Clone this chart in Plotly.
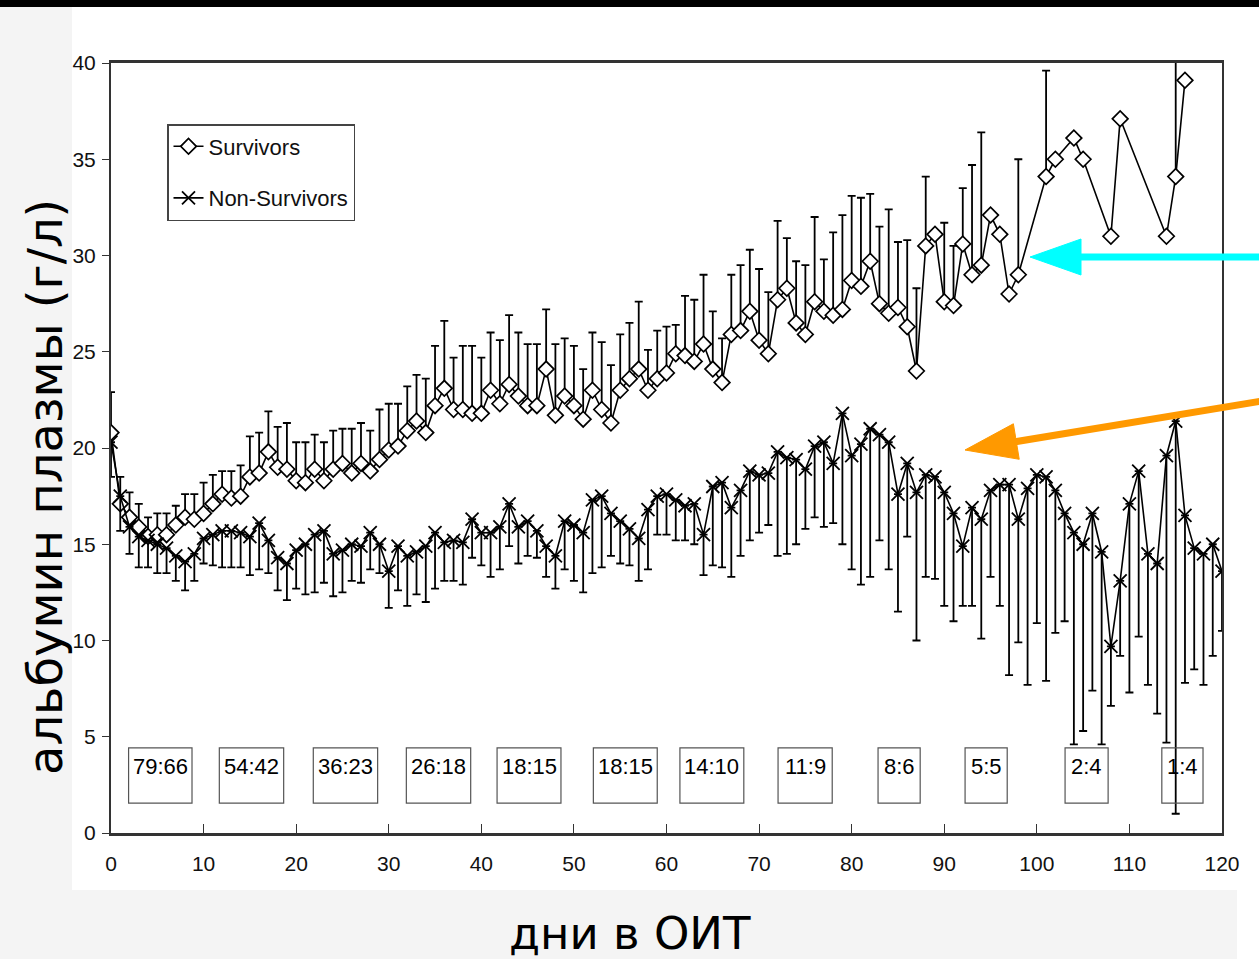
import plotly.graph_objects as go

# ---------------- data ----------------
surv_days = list(range(0, 99)) + [101, 102, 104, 105, 108, 109, 114, 115, 116]
surv_mean = [
    20.8, 17.1, 16.4, 15.9, 15.4, 15.5, 15.5, 16.0, 16.4, 16.3,
    16.6, 17.1, 17.6, 17.4, 17.5, 18.5, 18.7, 19.8, 19.0, 18.9,
    18.3, 18.2, 18.9, 18.3, 18.9, 19.2, 18.7, 19.2, 18.8, 19.4,
    19.9, 20.1, 20.9, 21.4, 20.8, 22.2, 23.1, 22.0, 22.0, 21.8,
    21.8, 23.0, 22.3, 23.3, 22.7, 22.2, 22.2, 24.1, 21.7, 22.7,
    22.2, 21.5, 23.0, 22.0, 21.3, 23.0, 23.6, 24.1, 23.0, 23.6,
    23.9, 24.9, 24.8, 24.5, 25.4, 24.1, 23.4, 25.9, 26.1, 27.1,
    25.6, 24.9, 27.7, 28.3, 26.5, 25.9, 27.6, 27.1, 26.9, 27.2,
    28.7, 28.4, 29.7, 27.5, 27.0, 27.3, 26.3, 24.0, 30.5, 31.1,
    27.6, 27.4, 30.6, 29.0, 29.5, 32.1, 31.1, 28.0, 29.0,
    34.1, 35.0, 36.1, 35.0, 31.0, 37.1, 31.0, 34.1, 39.1,
]
surv_upper = [
    22.9, 18.5, 17.7, 17.1, 16.4, 16.6, 16.6, 17.0, 17.6, 17.6,
    18.2, 18.6, 18.8, 18.8, 19.1, 20.6, 20.8, 21.9, 21.1, 21.3,
    20.3, 20.3, 20.7, 20.3, 20.9, 21.0, 21.0, 21.3, 20.9, 22.0,
    22.3, 22.3, 23.2, 23.8, 23.6, 25.3, 26.6, 24.7, 25.3, 25.3,
    24.7, 26.0, 25.6, 26.9, 26.0, 25.4, 25.4, 27.2, 25.4, 25.7,
    25.3, 24.1, 26.0, 25.5, 24.3, 25.9, 26.5, 27.6, 25.1, 26.1,
    26.3, 26.4, 27.9, 27.7, 29.0, 27.1, 25.7, 29.0, 29.5, 30.3,
    29.3, 28.1, 31.8, 30.9, 29.7, 29.5, 32.0, 29.8, 31.2, 32.1,
    33.1, 33.0, 33.2, 31.5, 32.4, 30.7, 30.8, 28.3, 34.1, 31.1,
    31.7, 30.5, 33.5, 34.7, 36.4, 32.1, 31.1, 28.0, 35.0,
    39.6, 35.0, 36.1, 35.0, 31.0, 37.1, 31.0, 40.5, 39.1,
]

nonsurv_days = list(range(0, 121))
nonsurv_mean = [
    20.3, 17.5, 15.9, 15.4, 15.2, 15.0, 14.8, 14.4, 14.1, 14.5,
    15.3, 15.5, 15.7, 15.7, 15.6, 15.4, 16.1, 15.2, 14.3, 14.0,
    14.7, 15.0, 15.5, 15.7, 14.5, 14.7, 15.0, 14.9, 15.6, 15.0,
    13.6, 14.9, 14.4, 14.6, 14.9, 15.6, 15.1, 15.2, 15.1, 16.3,
    15.6, 15.6, 15.9, 17.1, 15.9, 16.2, 15.7, 14.9, 14.4, 16.2,
    16.0, 15.6, 17.3, 17.5, 16.6, 16.2, 15.8, 15.3, 16.8, 17.5,
    17.6, 17.3, 17.0, 17.1, 15.5, 18.0, 18.2, 16.9, 17.8, 18.8,
    18.6, 18.7, 19.8, 19.5, 19.4, 18.9, 20.1, 20.3, 19.2, 21.8,
    19.6, 20.2, 21.0, 20.7, 20.3, 17.6, 19.2, 17.7, 18.6, 18.5,
    17.7, 16.6, 14.9, 16.9, 16.3, 17.8, 18.1, 18.1, 16.3, 17.9,
    18.6, 18.5, 17.8, 16.6, 15.6, 15.0, 16.6, 14.6, 9.7, 13.1,
    17.1, 18.8, 14.5, 14.0, 19.6, 21.4, 16.5, 14.8, 14.5, 15.0,
    13.6,
]
nonsurv_lower = [
    18.5, 15.7, 14.5, 13.8, 13.8, 13.5, 13.5, 13.1, 12.6, 13.1,
    14.0, 13.9, 13.8, 13.8, 13.8, 13.4, 13.7, 13.5, 12.6, 12.1,
    12.7, 12.4, 12.5, 13.0, 12.3, 12.5, 13.1, 13.0, 13.7, 13.5,
    11.7, 12.6, 11.8, 12.4, 12.0, 12.7, 13.1, 13.1, 12.9, 14.3,
    13.9, 13.3, 13.7, 14.9, 14.0, 14.4, 14.3, 13.3, 12.7, 13.7,
    13.1, 12.5, 13.5, 13.8, 14.4, 14.0, 13.9, 13.1, 13.7, 15.5,
    15.5, 15.2, 15.2, 15.0, 13.4, 13.9, 13.8, 13.3, 14.4, 15.2,
    15.6, 16.0, 14.4, 14.5, 15.0, 15.8, 16.4, 15.9, 16.1, 15.0,
    13.7, 12.9, 13.3, 15.2, 13.7, 11.5, 15.4, 10.0, 13.3, 13.2,
    11.8, 11.0, 11.8, 11.8, 10.1, 13.3, 11.8, 8.2, 9.9, 7.7,
    10.9, 7.9, 10.4, 11.0, 4.6, 5.3, 7.4, 4.6, 6.6, 9.2,
    7.3, 10.2, 7.7, 6.2, 4.7, 1.0, 7.8, 8.5, 7.7, 9.2,
    10.5,
]

# patient counts (survivors : non-survivors) shown in boxes
count_labels = ["79:66", "54:42", "36:23", "26:18", "18:15", "18:15",
                "14:10", "11:9", "8:6", "5:5", "2:4", "1:4"]

y_ticks = [0, 5, 10, 15, 20, 25, 30, 35, 40]
x_ticks = [0, 10, 20, 30, 40, 50, 60, 70, 80, 90, 100, 110, 120]

# ---------------- layout helpers (decoration only) ----------------
W, H = 1259, 959
L, R, T, B = 111, 1222, 63, 833


def px2x(px):
    return (px - L) / (R - L)


def py2y(py):
    return (B - py) / (B - T)


# box extents along the day axis (layout, not data)
count_box_x = [(1.9, 8.75), (11.7, 18.65), (21.85, 28.8), (31.9, 38.85),
               (41.7, 48.6), (52.1, 59.0), (61.45, 68.35), (72.05, 77.9),
               (82.85, 87.4), (92.25, 96.8), (103.05, 107.7), (113.5, 117.95)]
box_y0, box_y1, box_text_y = 1.55, 4.42, 3.45

narrow = "Liberation Sans Narrow, Arial Narrow, Liberation Sans, Arial, sans-serif"
title_font = "DejaVu Sans, Verdana, sans-serif"

surv_plus = [u - m for u, m in zip(surv_upper, surv_mean)]
nonsurv_minus = [m - lo for m, lo in zip(nonsurv_mean, nonsurv_lower)]

fig = go.Figure()

fig.add_trace(go.Scatter(
    x=surv_days, y=surv_mean, name="Survivors", mode="lines+markers",
    line=dict(color="black", width=1.6),
    marker=dict(symbol="diamond", size=12, color="white",
                line=dict(color="black", width=1.7)),
    error_y=dict(type="data", symmetric=False, array=surv_plus,
                 arrayminus=[0] * len(surv_plus), color="black",
                 thickness=1.8, width=4),
    legendgroup="s",
))
fig.add_trace(go.Scatter(
    x=nonsurv_days, y=nonsurv_mean, name="Non-Survivors", mode="lines+markers",
    line=dict(color="black", width=1.6),
    marker=dict(symbol="x-thin-open", size=13, color="black",
                line=dict(color="black", width=1.8)),
    error_y=dict(type="data", symmetric=False, array=[0] * len(nonsurv_minus),
                 arrayminus=nonsurv_minus, color="black",
                 thickness=1.8, width=4),
    legendgroup="n",
))

shapes = []
# background decoration of the scanned slide
shapes.append(dict(type="rect", xref="paper", yref="paper", layer="below",
                   x0=px2x(0), x1=px2x(72), y0=py2y(959), y1=py2y(7),
                   fillcolor="#f4f4f4", line=dict(width=0)))
shapes.append(dict(type="rect", xref="paper", yref="paper", layer="below",
                   x0=px2x(0), x1=px2x(1237), y0=py2y(959), y1=py2y(890),
                   fillcolor="#f4f4f4", line=dict(width=0)))
shapes.append(dict(type="rect", xref="paper", yref="paper", layer="above",
                   x0=px2x(0), x1=px2x(W), y0=py2y(7), y1=py2y(0),
                   fillcolor="black", line=dict(width=0)))

# count boxes
annotations = []
for (bx0, bx1), lab in zip(count_box_x, count_labels):
    shapes.append(dict(type="rect", xref="x", yref="y", x0=bx0, x1=bx1,
                       y0=box_y0, y1=box_y1, fillcolor="rgba(0,0,0,0)",
                       line=dict(color="#555", width=1.2), layer="above"))
    annotations.append(dict(x=(bx0 + bx1) / 2, y=box_text_y, xref="x", yref="y",
                            text=lab, showarrow=False,
                            font=dict(family=narrow, size=22, color="#000")))


def arrow(tail, tip, head_len, head_w, color, width):
    (tx, ty), (hx, hy) = tail, tip
    dx, dy = tx - hx, ty - hy
    n = (dx * dx + dy * dy) ** 0.5
    ux, uy = dx / n, dy / n
    bx, by = hx + ux * (head_len - 2), hy + uy * (head_len - 2)
    px_, py_ = -uy * head_w / 2, ux * head_w / 2
    out = [dict(type="line", xref="paper", yref="paper", layer="above",
                x0=px2x(tx), y0=py2y(ty), x1=px2x(bx), y1=py2y(by),
                line=dict(color=color, width=width))]
    p = "M {} {} L {} {} L {} {} Z".format(
        px2x(hx), py2y(hy),
        px2x(hx + ux * head_len + px_), py2y(hy + uy * head_len + py_),
        px2x(hx + ux * head_len - px_), py2y(hy + uy * head_len - py_))
    out.append(dict(type="path", xref="paper", yref="paper", layer="above",
                    path=p, fillcolor=color, line=dict(color=color, width=1)))
    return out


shapes += arrow((1262, 257), (1030, 257), 51, 36, "#00FFFF", 7)
shapes += arrow((1262, 401), (965, 450), 52, 36, "#FF9900", 7)

# axis titles
annotations.append(dict(text="альбумин плазмы (г/л)", xref="paper", yref="paper",
                        x=px2x(45), y=py2y(487), textangle=-90, showarrow=False,
                        xanchor="center", yanchor="middle",
                        font=dict(family=title_font, size=48, color="black")))
annotations.append(dict(text="дни в ОИТ", xref="paper", yref="paper",
                        x=px2x(630), y=py2y(933), showarrow=False,
                        xanchor="center", yanchor="middle",
                        font=dict(family=title_font, size=45, color="black")))

fig.update_layout(
    width=W, height=H, autosize=False,
    margin=dict(l=L, r=W - R, t=T, b=H - B),
    paper_bgcolor="white", plot_bgcolor="white",
    showlegend=True,
    legend=dict(x=px2x(167), y=py2y(124), xanchor="left", yanchor="top",
                bgcolor="white", bordercolor="#444", borderwidth=1.5,
                font=dict(family=narrow, size=22, color="#111"),
                tracegroupgap=20, traceorder="grouped"),
    shapes=shapes, annotations=annotations,
    xaxis=dict(range=[0, 120], tickvals=x_ticks, ticks="inside", ticklen=9,
               tickcolor="#333", showline=True, linecolor="#333", linewidth=2.5,
               mirror=True, showgrid=False, zeroline=False,
               tickfont=dict(family=narrow, size=21, color="#111"),
               ticklabelstandoff=10),
    yaxis=dict(range=[0, 40], tickvals=y_ticks, ticks="outside", ticklen=7,
               tickcolor="#333", showline=True, linecolor="#333", linewidth=2,
               mirror=True, showgrid=False, zeroline=False,
               tickfont=dict(family=narrow, size=21, color="#111"),
               ticklabelstandoff=2),
)

fig.write_html(
    "out.html",
    config={"displayModeBar": False},
    post_script="document.body.style.margin='0';document.body.style.padding='0';"
                "document.documentElement.style.overflow='hidden';",
)
